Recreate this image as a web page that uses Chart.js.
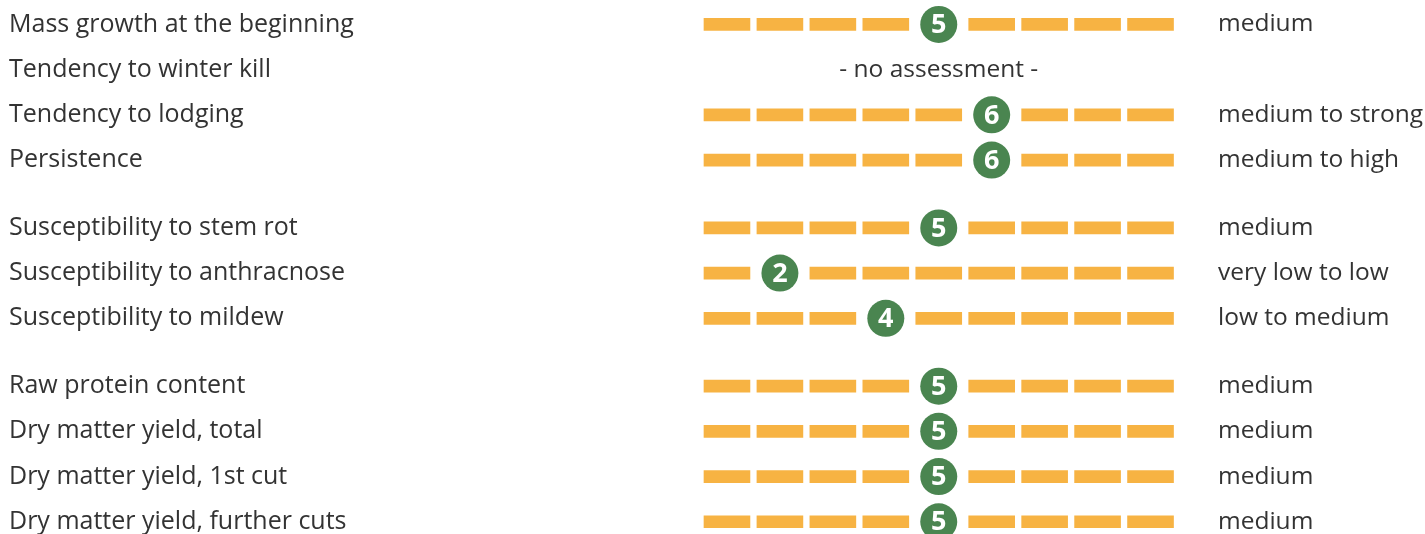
<!DOCTYPE html>
<html>
<head>
<meta charset="utf-8">
<script src="https://cdn.jsdelivr.net/npm/chart.js@4/dist/chart.umd.min.js"></script>
<style>
  html, body { margin: 0; padding: 0; background: #ffffff; }
  #wrap { width: 1425px; height: 534px; position: relative; }
</style>
</head>
<body>
<div id="wrap"><canvas id="c"></canvas></div>
<script>
const traits = [
  'Mass growth at the beginning',
  'Tendency to winter kill',
  'Tendency to lodging',
  'Persistence',
  'Susceptibility to stem rot',
  'Susceptibility to anthracnose',
  'Susceptibility to mildew',
  'Raw protein content',
  'Dry matter yield, total',
  'Dry matter yield, 1st cut',
  'Dry matter yield, further cuts'
];
const rowPositions = [0, 1, 2, 3, 4.5, 5.5, 6.5, 8, 9, 10, 11];
const scores = [5, null, 6, 6, 5, 2, 4, 5, 5, 5, 5];
const ratings = [
  'medium', '', 'medium to strong', 'medium to high',
  'medium', 'very low to low', 'low to medium',
  'medium', 'medium', 'medium', 'medium'
];
const scaleSteps = [1, 2, 3, 4, 5, 6, 7, 8, 9];
const noAssessmentText = '- no assessment -';

const ORANGE = '#F7B343';
const GREEN = '#4A8550';
const TEXT = '#333333';
const FONT = 'Open Sans';
const LEFT_SIZE = 25;
const RIGHT_SIZE = 24.5;

// segment bars (one per step, except the step holding the score marker)
const segHalf = 0.434;
const segmentData = [];
rowPositions.forEach((pos, i) => {
  const s = scores[i];
  if (s === null) return;
  scaleSteps.forEach(k => {
    if (k !== s) segmentData.push({ y: pos, x: [k - segHalf, k + segHalf] });
  });
});
const markerData = [];
rowPositions.forEach((pos, i) => {
  if (scores[i] !== null) markerData.push({ x: scores[i], y: pos, v: scores[i] });
});

const labelFor = (list) => (value) => {
  const idx = rowPositions.indexOf(value);
  return idx >= 0 ? list[idx] : '';
};

const overlayPlugin = {
  id: 'overlay',
  afterDatasetsDraw(chart) {
    const ctx = chart.ctx;
    const meta = chart.getDatasetMeta(1);
    ctx.save();
    ctx.fillStyle = '#ffffff';
    ctx.font = 'bold 27px "Open Sans"';
    ctx.textAlign = 'center';
    ctx.textBaseline = 'middle';
    meta.data.forEach((pt, i) => {
      ctx.fillText(String(markerData[i].v), pt.x, pt.y + 1);
    });
    ctx.fillStyle = TEXT;
    ctx.font = RIGHT_SIZE + 'px "' + FONT + '"';
    const xs = chart.scales.x, ys = chart.scales.y;
    rowPositions.forEach((pos, i) => {
      if (scores[i] === null) {
        ctx.fillText(noAssessmentText, xs.getPixelForValue(5), ys.getPixelForValue(pos));
      }
    });
    ctx.restore();
  }
};

const yCommon = {
  type: 'linear',
  reverse: true,
  offset: false,
  min: -0.54,
  max: 11.27,
  grid: { display: false, drawTicks: false },
  border: { display: false },
  afterBuildTicks: (scale) => { scale.ticks = rowPositions.map(v => ({ value: v })); }
};

new Chart(document.getElementById('c'), {
  type: 'bar',
  data: {
    datasets: [
      {
        type: 'bar',
        indexAxis: 'y',
        data: segmentData,
        backgroundColor: ORANGE,
        barThickness: 12,
        xAxisID: 'x',
        yAxisID: 'y'
      },
      {
        type: 'scatter',
        data: markerData,
        pointRadius: 18.5,
        pointBackgroundColor: GREEN,
        pointBorderWidth: 0,
        showLine: false,
        xAxisID: 'x',
        yAxisID: 'y'
      }
    ]
  },
  options: {
    responsive: true,
    maintainAspectRatio: false,
    animation: false,
    events: [],
    layout: { autoPadding: false, padding: { left: 9, right: 0, top: 0, bottom: 0 } },
    plugins: { legend: { display: false }, tooltip: { enabled: false } },
    scales: {
      x: { type: 'linear', min: 0.5, max: 9.5, display: false, offset: false },
      y: Object.assign({}, yCommon, {
        position: 'left',
        ticks: {
          crossAlign: 'far',
          color: TEXT,
          font: { family: FONT, size: LEFT_SIZE },
          autoSkip: false,
          callback: labelFor(traits)
        },
        afterFit: (s) => { s.width = 691.5; s.paddingTop = 0; s.paddingBottom = 0; }
      }),
      y2: Object.assign({}, yCommon, {
        position: 'right',
        ticks: {
          padding: 41,
          color: TEXT,
          font: { family: FONT, size: RIGHT_SIZE },
          autoSkip: false,
          callback: labelFor(ratings)
        },
        afterFit: (s) => { s.width = 248; s.paddingTop = 0; s.paddingBottom = 0; }
      })
    }
  },
  plugins: [overlayPlugin]
});
</script>
</body>
</html>
